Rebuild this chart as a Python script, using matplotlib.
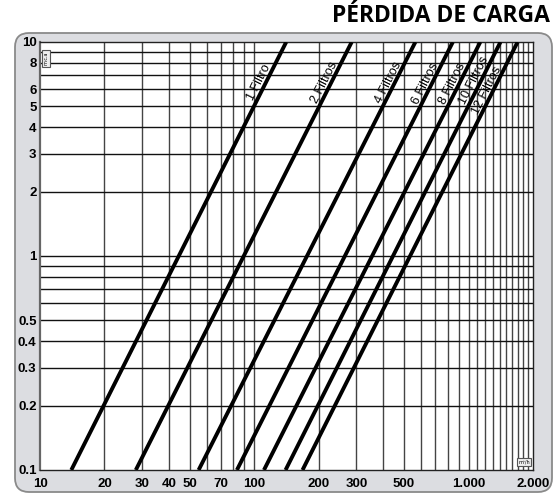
import numpy as np
import matplotlib.pyplot as plt
from matplotlib.patches import FancyBboxPatch
from matplotlib.ticker import FixedLocator, FixedFormatter, NullLocator

# caudal (m3/h) donde cada curva corta 0.1 y 10 m.c.a
filters = ["1 Filtro", "2 Filtros", "4 Filtros", "6 Filtros",
           "8 Filtros", "10 Filtros", "12 Filtros"]
flow_low = [14, 28, 55, 83, 111, 140, 168]
flow_high = [141, 285, 565, 845, 1135, 1410, 1695]
loss_ends = [0.1, 10]
label_loss = [6.3, 6.3, 6.3, 6.2, 6.2, 6.4, 5.8]

x_ticks = [10, 20, 30, 40, 50, 70, 100, 200, 300, 500, 1000, 2000]
x_ticklabels = ["10", "20", "30", "40", "50", "70", "100", "200",
                "300", "500", "1.000", "2.000"]
y_ticks = [0.1, 0.2, 0.3, 0.4, 0.5, 1, 2, 3, 4, 5, 6, 8, 10]
y_ticklabels = ["0.1", "0.2", "0.3", "0.4", "0.5", "1", "2", "3",
                "4", "5", "6", "8", "10"]

x_grid = list(range(20, 100, 10)) + list(range(100, 1000, 100)) + list(range(1000, 2000, 100))
y_grid = [0.2, 0.3, 0.4, 0.5, 0.6, 0.7, 0.8, 0.9, 1, 2, 3, 4, 5, 6, 7, 8, 9]

W, H = 560, 495
fig = plt.figure(figsize=(W / 100, H / 100), dpi=100)

# fondo con marco redondeado (coordenadas en pixeles)
bg = fig.add_axes([0, 0, 1, 1], zorder=0)
bg.set_xlim(0, W)
bg.set_ylim(H, 0)
bg.axis("off")
bg.add_patch(FancyBboxPatch((15, 33), 537, 459,
                            boxstyle="round,pad=0,rounding_size=14",
                            fc="#dcdde1", ec="#8a8a8a", lw=1.3))

fig.text(550 / W, 1 - 15.5 / H, "PÉRDIDA DE CARGA", ha="right", va="center",
         fontsize=16.5, fontweight="bold", family=["Open Sans", "DejaVu Sans"])

left, right, top, bottom = 40, 533, 42, 470
ax = fig.add_axes([left / W, 1 - bottom / H, (right - left) / W, (bottom - top) / H],
                  zorder=1)
ax.set_facecolor("white")
ax.set_xscale("log")
ax.set_yscale("log")
xmin, xmax = 10, 2000
ymin, ymax = 0.1, 10
ax.set_xlim(xmin, xmax)
ax.set_ylim(ymin, ymax)

for xv in x_grid:
    ax.axvline(xv, color="#444444", lw=1.0, zorder=1)
for yv in y_grid:
    ax.axhline(yv, color="#111111", lw=1.0, zorder=1)

# pixeles por decada para calcular el angulo de las etiquetas
px_dec = (right - left) / np.log10(xmax / xmin)
py_dec = (bottom - top) / np.log10(ymax / ymin)

for name, lo, hi, ly in zip(filters, flow_low, flow_high, label_loss):
    ax.plot([lo, hi], loss_ends, color="black", lw=2.8,
            solid_capstyle="butt", zorder=3)
    t = np.log10(ly / loss_ends[0]) / np.log10(loss_ends[1] / loss_ends[0])
    lx = 10 ** (np.log10(lo) + t * (np.log10(hi) - np.log10(lo)))
    slope = np.log10(loss_ends[1] / loss_ends[0]) / np.log10(hi / lo)
    ang = np.degrees(np.arctan(slope * py_dec / px_dec))
    ax.text(lx, ly, name, rotation=ang, rotation_mode="anchor",
            ha="center", va="bottom", fontsize=9, zorder=4,
            family=["Liberation Sans Narrow", "Liberation Sans", "DejaVu Sans"])

ax.xaxis.set_major_locator(FixedLocator(x_ticks))
ax.xaxis.set_major_formatter(FixedFormatter(x_ticklabels))
ax.xaxis.set_minor_locator(NullLocator())
ax.yaxis.set_major_locator(FixedLocator(y_ticks))
ax.yaxis.set_major_formatter(FixedFormatter(y_ticklabels))
ax.yaxis.set_minor_locator(NullLocator())
ax.tick_params(axis="x", length=0, pad=6)
ax.tick_params(axis="y", length=0, pad=2.5)
for lab in ax.get_xticklabels() + ax.get_yticklabels():
    lab.set_fontweight("bold")
    lab.set_fontsize(9.5)
    lab.set_family(["Liberation Sans", "DejaVu Sans"])

for side in ["top", "right", "bottom"]:
    ax.spines[side].set_color("#222222")
    ax.spines[side].set_linewidth(1)
ax.spines["left"].set_color("#666666")
ax.spines["left"].set_linewidth(1.6)

# cajitas de unidades
ax.text(0.013, 0.977, "m.c.a", transform=ax.transAxes, rotation=90,
        ha="center", va="top", fontsize=3.5, zorder=5,
        bbox=dict(boxstyle="square,pad=0.3", fc="#eeeeee", ec="#555555", lw=0.8))
ax.text(0.982, 0.019, "m³/h", transform=ax.transAxes,
        ha="center", va="center", fontsize=3.5, zorder=5,
        bbox=dict(boxstyle="square,pad=0.3", fc="#eeeeee", ec="#555555", lw=0.8))

fig.savefig("out.png", dpi=100)
